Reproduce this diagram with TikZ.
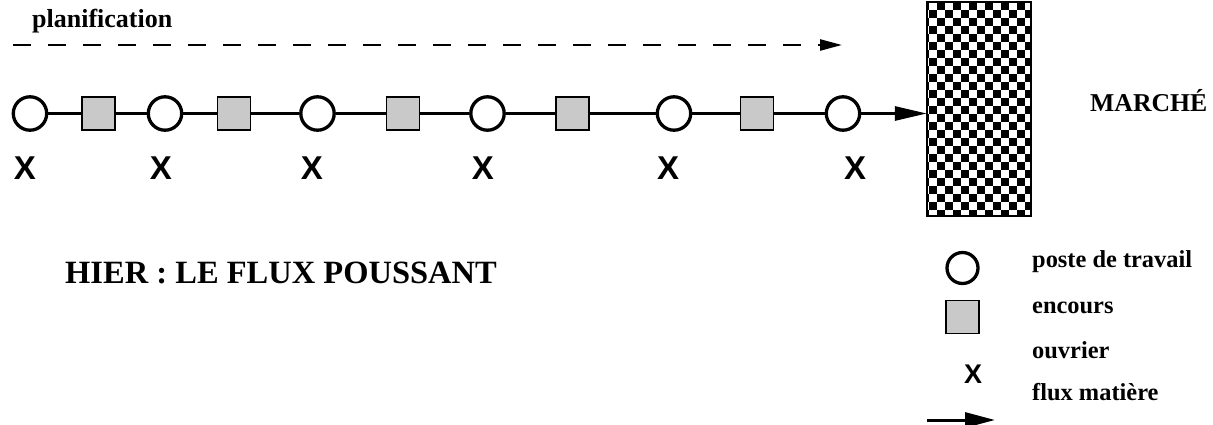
\documentclass[tikz,border=0pt]{standalone}
\usepackage{fontspec}
\setmainfont{Liberation Serif}
\newfontfamily\xsans{Liberation Sans}
\usetikzlibrary{arrows.meta}
\begin{document}
\begin{tikzpicture}[x=1pt,y=-1pt,
  post/.style={circle, draw, line width=3.3pt, fill=white, minimum size=33.4pt, inner sep=0pt},
  wip/.style={rectangle, draw, line width=1.8pt, fill=black!21, minimum size=33pt, inner sep=0pt},
  worker/.style={font=\xsans\bfseries\fontsize{33}{33}\selectfont, inner sep=0pt},
  lbl/.style={font=\bfseries\fontsize{24.4}{26}\selectfont, anchor=base west, inner sep=0pt},
  link/.style={line width=3pt},
  flow/.style={line width=3pt, -{Triangle[length=32pt,width=14pt]}},
  plan/.style={line width=2.5pt, dash pattern=on 18pt off 17pt, -{Triangle[length=22pt,width=11pt]}}
]
\useasboundingbox (0,0) rectangle (1213,425);

% planning arrow
\node[lbl, font=\bfseries\fontsize{26}{28}\selectfont] (plan) at (32,28) {planification};
\coordinate (ds) at (13,45);
\coordinate (de) at (842,45);
\draw[plan] (ds) -- (de);

% market
\node[minimum width=104pt, minimum height=214pt, inner sep=0pt] (m) at (979,109) {};
\begin{scope}
  \clip (m.north west) rectangle (m.south east);
  \foreach \i in {-1,...,7} {
    \foreach \j in {-1,...,14} {
      \fill (937+16*\i, 2+16*\j) rectangle ++(8,8);
      \fill (929+16*\i, 10+16*\j) rectangle ++(8,8);
    }
  }
\end{scope}
\draw[line width=1.5pt] (m.north west) rectangle (m.south east);
\node[lbl, font=\bfseries\fontsize{25.7}{27}\selectfont] (mk) at (1090,112) {MARCHÉ};

% flow line
\node[post] (c1) at (30,113.5) {};
\node[wip]  (s1) at (98.5,113.5) {};
\node[post] (c2) at (165,113.5) {};
\node[wip]  (s2) at (234,113.5) {};
\node[post] (c3) at (317.5,113.5) {};
\node[wip]  (s3) at (403,113.5) {};
\node[post] (c4) at (487.5,113.5) {};
\node[wip]  (s4) at (572.5,113.5) {};
\node[post] (c5) at (674,113.5) {};
\node[wip]  (s5) at (757,113.5) {};
\node[post] (c6) at (843,113.5) {};

\draw[link] (c1) -- (s1);
\draw[link] (s1) -- (c2);
\draw[link] (c2) -- (s2);
\draw[link] (s2) -- (c3);
\draw[link] (c3) -- (s3);
\draw[link] (s3) -- (c4);
\draw[link] (c4) -- (s4);
\draw[link] (s4) -- (c5);
\draw[link] (c5) -- (s5);
\draw[link] (s5) -- (c6);
\draw[flow] (c6.east) -- (c6.east -| m.west);

% workers
\node[worker] (w1) at (25,168.5) {X};
\node[worker] (w2) at (161,168.5) {X};
\node[worker] (w3) at (312,168.5) {X};
\node[worker] (w4) at (483,168.5) {X};
\node[worker] (w5) at (668,168.5) {X};
\node[worker] (w6) at (855,168.5) {X};

% title
\node[lbl, font=\bfseries\fontsize{32.5}{34}\selectfont] (title) at (65,283) {HIER : LE FLUX POUSSANT};

% legend
\node[post, minimum size=31pt] (lc) at (962.5,268) {};
\node[wip, minimum size=33pt] (ls) at (962.5,317) {};
\node[worker, font=\xsans\bfseries\fontsize{27}{27}\selectfont] (lx) at (973,374) {X};
\coordinate (la1) at (927,420);
\coordinate (la2) at (995,420);
\draw[flow, -{Triangle[length=30pt,width=15pt]}] (la1) -- (la2);
\node[lbl] (t1) at (1032,267) {poste de travail};
\node[lbl] (t2) at (1032,313) {encours};
\node[lbl] (t3) at (1032,358) {ouvrier};
\node[lbl] (t4) at (1032,400) {flux matière};
\end{tikzpicture}
\end{document}
